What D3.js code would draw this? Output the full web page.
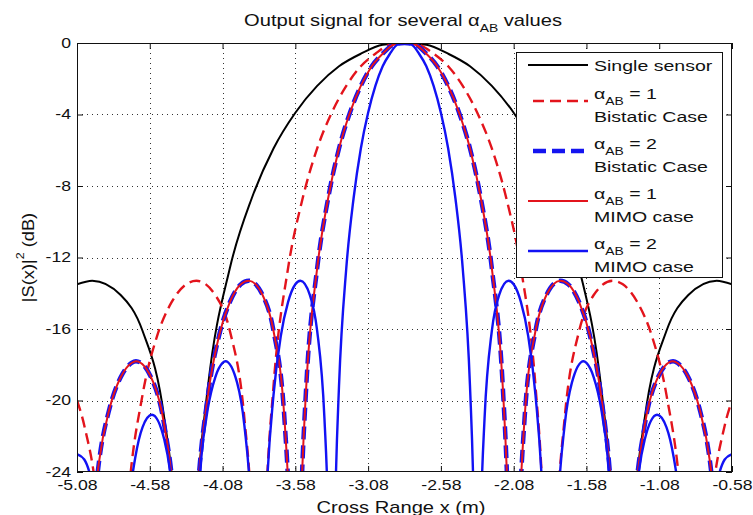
<!DOCTYPE html>
<html>
<head>
<meta charset="utf-8">
<script src="https://cdn.jsdelivr.net/npm/d3@7"></script>
<style>
  body { margin: 0; background: #fff; }
  svg text { font-family: "Liberation Sans", Arial, Helvetica, sans-serif; fill: #111; }
</style>
</head>
<body>
<div id="chart"></div>
<script>
/************************** DATA **************************/

var xTickValues = [-5.08, -4.58, -4.08, -3.58, -3.08, -2.58, -2.08, -1.58, -1.08, -0.58];
var yTickValues = [0, -4, -8, -12, -16, -20, -24];

// [cross range x (m), |S(x)|^2 (dB)]; -40 = null, off the bottom
var singleSensor = [
  [-5.08,-13.5],[-4.975,-13.3],[-4.78,-14.1],[-4.63,-16.1],[-4.48,-21.0],[-4.405,-26.5],[-4.33,-40],
  [-4.255,-25.6],[-4.18,-19.2],[-4.03,-12.6],[-3.88,-8.7],[-3.73,-5.9],[-3.58,-3.9],[-3.43,-2.4],
  [-3.28,-1.3],[-3.13,-0.6],[-2.98,-0.1],[-2.83,0],[-2.68,-0.1],[-2.53,-0.6],[-2.38,-1.3],[-2.23,-2.4],
  [-2.08,-3.9],[-1.93,-5.9],[-1.78,-8.7],[-1.63,-12.6],[-1.48,-19.2],[-1.405,-25.6],[-1.33,-40],
  [-1.255,-26.5],[-1.18,-21.0],[-1.03,-16.1],[-0.88,-14.1],[-0.685,-13.3],[-0.58,-13.5]
];

var bistaticAlpha1 = [
  [-5.08,-20.0],[-5.03,-21.4],[-4.93,-26.6],[-4.83,-40],[-4.73,-25.7],[-4.63,-19.7],[-4.53,-16.4],
  [-4.43,-14.5],[-4.33,-13.5],[-4.26,-13.3],[-4.13,-14.1],[-4.03,-16.1],[-3.93,-21.0],[-3.88,-26.5],
  [-3.83,-40],[-3.78,-25.6],[-3.73,-19.2],[-3.63,-12.6],[-3.53,-8.7],[-3.43,-5.9],[-3.33,-3.9],
  [-3.23,-2.4],[-3.13,-1.3],[-3.03,-0.6],[-2.93,-0.1],[-2.83,0],[-2.73,-0.1],[-2.63,-0.6],[-2.53,-1.3],
  [-2.43,-2.4],[-2.33,-3.9],[-2.23,-5.9],[-2.13,-8.7],[-2.03,-12.6],[-1.93,-19.2],[-1.88,-25.6],
  [-1.83,-40],[-1.78,-26.5],[-1.73,-21.0],[-1.63,-16.1],[-1.53,-14.1],[-1.40,-13.3],[-1.33,-13.5],
  [-1.23,-14.5],[-1.13,-16.4],[-1.03,-19.7],[-0.93,-25.7],[-0.83,-40],[-0.73,-26.6],[-0.63,-21.4],
  [-0.58,-20.0]
];

var bistaticAlpha2 = [
  [-5.08,-40],[-4.93,-23.5],[-4.855,-20.4],[-4.78,-18.7],[-4.705,-17.9],[-4.675,-17.8],[-4.555,-19.0],
  [-4.48,-21.4],[-4.405,-26.6],[-4.33,-40],[-4.255,-25.7],[-4.18,-19.7],[-4.105,-16.4],[-4.03,-14.5],
  [-3.955,-13.5],[-3.90,-13.3],[-3.805,-14.1],[-3.73,-16.1],[-3.655,-21.0],[-3.62,-26.5],[-3.58,-40],
  [-3.54,-25.6],[-3.505,-19.2],[-3.43,-12.6],[-3.355,-8.7],[-3.28,-5.9],[-3.205,-3.9],[-3.13,-2.4],
  [-3.055,-1.3],[-2.98,-0.6],[-2.905,-0.1],[-2.83,0],[-2.755,-0.1],[-2.68,-0.6],[-2.605,-1.3],
  [-2.53,-2.4],[-2.455,-3.9],[-2.38,-5.9],[-2.305,-8.7],[-2.23,-12.6],[-2.155,-19.2],[-2.12,-25.6],
  [-2.08,-40],[-2.04,-26.5],[-2.005,-21.0],[-1.93,-16.1],[-1.855,-14.1],[-1.76,-13.3],[-1.705,-13.5],
  [-1.63,-14.5],[-1.555,-16.4],[-1.48,-19.7],[-1.405,-25.7],[-1.33,-40],[-1.255,-26.6],[-1.18,-21.4],
  [-1.105,-19.0],[-0.985,-17.8],[-0.955,-17.9],[-0.88,-18.7],[-0.805,-20.4],[-0.73,-23.5],[-0.58,-40]
];

// in the figure this curve lies right on top of the alpha=2 bistatic one
var mimoAlpha1 = bistaticAlpha2.map(function(d){ return [d[0], d[1]]; });

var mimoAlpha2 = [
  [-5.08,-23.0],[-5.03,-23.3],[-4.98,-24.5],[-4.93,-27.0],[-4.83,-40],[-4.73,-26.2],[-4.68,-23.2],
  [-4.63,-21.5],[-4.565,-20.8],[-4.48,-22.2],[-4.43,-24.7],[-4.33,-40],[-4.23,-23.5],[-4.18,-20.4],
  [-4.13,-18.7],[-4.08,-17.9],[-4.06,-17.8],[-3.98,-19.0],[-3.93,-21.4],[-3.88,-26.6],[-3.83,-40],
  [-3.78,-25.7],[-3.73,-19.7],[-3.68,-16.4],[-3.63,-14.5],[-3.58,-13.5],[-3.545,-13.3],[-3.48,-14.1],
  [-3.43,-16.1],[-3.38,-21.0],[-3.355,-26.5],[-3.33,-40],[-3.305,-25.6],[-3.28,-19.2],[-3.23,-12.6],
  [-3.18,-8.7],[-3.13,-5.9],[-3.08,-3.9],[-3.03,-2.4],[-2.98,-1.3],[-2.93,-0.6],[-2.88,-0.1],[-2.83,0],
  [-2.78,-0.1],[-2.73,-0.6],[-2.68,-1.3],[-2.63,-2.4],[-2.58,-3.9],[-2.53,-5.9],[-2.48,-8.7],
  [-2.43,-12.6],[-2.38,-19.2],[-2.355,-25.6],[-2.33,-40],[-2.305,-26.5],[-2.28,-21.0],[-2.23,-16.1],
  [-2.18,-14.1],[-2.115,-13.3],[-2.08,-13.5],[-2.03,-14.5],[-1.98,-16.4],[-1.93,-19.7],[-1.88,-25.7],
  [-1.83,-40],[-1.78,-26.6],[-1.73,-21.4],[-1.68,-19.0],[-1.60,-17.8],[-1.58,-17.9],[-1.53,-18.7],
  [-1.48,-20.4],[-1.43,-23.5],[-1.33,-40],[-1.23,-24.7],[-1.18,-22.2],[-1.095,-20.8],[-1.03,-21.5],
  [-0.98,-23.2],[-0.93,-26.2],[-0.83,-40],[-0.73,-27.0],[-0.68,-24.5],[-0.63,-23.3],[-0.58,-23.0]
];

var series = [
  { data: singleSensor,   color: '#000',    width: 2,   dash: null,   alpha: null, label: 'Single sensor' },
  { data: bistaticAlpha1, color: '#e3141c', width: 2.4, dash: '11,6', alpha: 1,    label: 'Bistatic Case' },
  { data: bistaticAlpha2, color: '#1414f0', width: 4.5, dash: '13,6', alpha: 2,    label: 'Bistatic Case' },
  { data: mimoAlpha1,     color: '#e3141c', width: 2,   dash: null,   alpha: 1,    label: 'MIMO case' },
  { data: mimoAlpha2,     color: '#1212f4', width: 2.4, dash: null,   alpha: 2,    label: 'MIMO case' }
];

/************************** RENDER **************************/

var W = 753, H = 515,
    SX = 1.26, // the original figure is stretched sideways, text too
    plot = { left: 77, right: 732, top: 43, bottom: 472 };

var svg = d3.select('#chart').append('svg')
    .attr('width', W)
    .attr('height', H);

var x = d3.scaleLinear().domain([-5.08, -0.58]).range([plot.left, plot.right]);
var y = d3.scaleLinear().domain([-24, 0]).range([plot.bottom, plot.top]);

// dotted grid
var grid = svg.append('g')
    .attr('stroke', '#333')
    .attr('stroke-width', 1)
    .attr('stroke-dasharray', '1,4');

grid.selectAll('.vgrid')
    .data(xTickValues.slice(1, -1))
    .enter().append('line')
      .attr('x1', function(d){ return Math.round(x(d)) + 0.5; })
      .attr('x2', function(d){ return Math.round(x(d)) + 0.5; })
      .attr('y1', plot.top)
      .attr('y2', plot.bottom);

grid.selectAll('.hgrid')
    .data(yTickValues.slice(1, -1))
    .enter().append('line')
      .attr('y1', function(d){ return Math.round(y(d)) + 0.5; })
      .attr('y2', function(d){ return Math.round(y(d)) + 0.5; })
      .attr('x1', plot.left)
      .attr('x2', plot.right);

// curves
svg.append('clipPath').attr('id', 'plotClip')
  .append('rect')
    .attr('x', plot.left).attr('y', plot.top)
    .attr('width', plot.right - plot.left)
    .attr('height', plot.bottom - plot.top);

var line = d3.line()
    .x(function(d){ return x(d[0]); })
    .y(function(d){ return y(d[1]); })
    .curve(d3.curveMonotoneX);

svg.append('g').attr('clip-path', 'url(#plotClip)')
  .selectAll('path')
  .data(series)
  .enter().append('path')
    .attr('d', function(d){ return line(d.data); })
    .attr('fill', 'none')
    .attr('stroke', function(d){ return d.color; })
    .attr('stroke-width', function(d){ return d.width; })
    .attr('stroke-dasharray', function(d){ return d.dash; })
    .attr('stroke-linejoin', 'round');

// axes, ticks pointing inwards
function styleAxis(g) {
  g.attr('font-family', null).attr('font-size', 14).attr('color', '#111');
  g.select('.domain').remove();
}

svg.append('g')
    .attr('transform', 'translate(0,' + plot.bottom + ')')
    .call(d3.axisBottom(x).tickValues(xTickValues)
      .tickFormat(function(d){ return d.toFixed(2); })
      .tickSizeInner(-6).tickSizeOuter(0).tickPadding(8))
    .call(styleAxis)
    .selectAll('text').attr('transform', 'scale(' + SX + ',1)');

svg.append('g')
    .attr('transform', 'translate(' + plot.left + ',0)')
    .call(d3.axisLeft(y).tickValues(yTickValues)
      .tickFormat(function(d){ return String(d); })
      .tickSizeInner(-6).tickSizeOuter(0).tickPadding(6))
    .call(styleAxis)
    .selectAll('text')
      .attr('x', -6 / SX)
      .attr('transform', 'scale(' + SX + ',1)');

svg.append('g')
    .attr('transform', 'translate(0,' + plot.top + ')')
    .call(d3.axisTop(x).tickValues(xTickValues).tickFormat('').tickSizeInner(-6).tickSizeOuter(0))
    .call(styleAxis);

svg.append('g')
    .attr('transform', 'translate(' + plot.right + ',0)')
    .call(d3.axisRight(y).tickValues(yTickValues).tickFormat('').tickSizeInner(-6).tickSizeOuter(0))
    .call(styleAxis);

svg.append('rect')
    .attr('x', plot.left + 0.5).attr('y', plot.top + 0.5)
    .attr('width', plot.right - plot.left - 1)
    .attr('height', plot.bottom - plot.top - 1)
    .attr('fill', 'none')
    .attr('stroke', '#111');

// title and axis labels
var title = svg.append('text')
    .attr('transform', 'translate(403,26) scale(' + SX + ',1)')
    .attr('text-anchor', 'middle')
    .attr('font-size', 16);
title.append('tspan').text('Output signal for several α');
title.append('tspan').attr('font-size', 11).attr('dy', 6).text('AB');
title.append('tspan').attr('dy', -6).text(' values');

svg.append('text')
    .attr('transform', 'translate(401,512.5) scale(' + SX + ',1)')
    .attr('text-anchor', 'middle')
    .attr('font-size', 16)
    .text('Cross Range x (m)');

var ylab = svg.append('text')
    .attr('transform', 'translate(34,257.5) rotate(-90) scale(1.14,1)')
    .attr('text-anchor', 'middle')
    .attr('font-size', 16);
ylab.append('tspan').text('|S(x)|');
ylab.append('tspan').attr('font-size', 11).attr('dy', -10).text('2');
ylab.append('tspan').attr('dy', 10).text(' (dB)');

// legend
var legend = svg.append('g').attr('class', 'legend');

legend.append('rect')
    .attr('x', 516.5).attr('y', 52.5)
    .attr('width', 206).attr('height', 225)
    .attr('fill', '#fff')
    .attr('stroke', '#111');

series.forEach(function(s, i){
  var lineY, baseline;
  if (s.alpha === null) {
    lineY = 65; baseline = 71;
  } else {
    baseline = 98.5 + 50 * (i - 1);
    lineY = baseline + 2.5;
  }

  legend.append('line')
      .attr('x1', 528).attr('x2', 588)
      .attr('y1', lineY).attr('y2', lineY)
      .attr('stroke', s.color)
      .attr('stroke-width', s.width)
      .attr('stroke-dasharray', s.dash)
      .attr('stroke-dashoffset', s.dash ? -5 : null);

  var t = legend.append('text')
      .attr('transform', 'translate(594,' + baseline + ') scale(' + SX + ',1)')
      .attr('font-size', 15.5);

  if (s.alpha === null) {
    t.text(s.label);
  } else {
    t.append('tspan').text('α');
    t.append('tspan').attr('font-size', 11).attr('dy', 6).text('AB');
    t.append('tspan').attr('dy', -6).text(' = ' + s.alpha);

    legend.append('text')
        .attr('transform', 'translate(594,' + (baseline + 23) + ') scale(' + SX + ',1)')
        .attr('font-size', 15.5)
        .text(s.label);
  }
});
</script>
</body>
</html>
